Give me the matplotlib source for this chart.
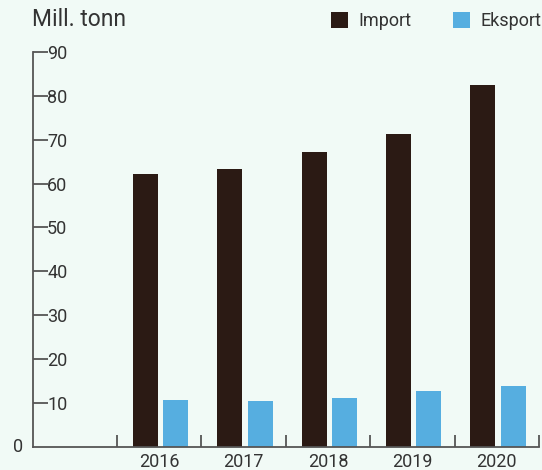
import matplotlib
matplotlib.use("Agg")
import matplotlib.pyplot as plt
import numpy as np

years = ["2016", "2017", "2018", "2019", "2020"]
import_vals = [62.2, 63.4, 67.2, 71.3, 82.5]
export_vals = [10.5, 10.4, 11.1, 12.7, 13.8]
y_ticks = [10, 20, 30, 40, 50, 60, 70, 80, 90]

bg = "#f1faf6"
c_imp = "#2b1a14"
c_exp = "#56aee0"
axis_col = "#555555"
text_col = "#333333"

plt.rcParams['font.family'] = ['Roboto', 'DejaVu Sans']

fig = plt.figure(figsize=(5.42, 4.70), dpi=100, facecolor=bg)
ax = fig.add_axes([0.06, 0.05, 0.9345, 0.839])
ax.set_facecolor(bg)

# category 0 is left empty, years sit at 1..5
x = np.arange(1, len(years) + 1)
w = 0.296
ax.bar(x - 0.165, import_vals, w, color=c_imp, label="Import")
ax.bar(x + 0.195, export_vals, w, color=c_exp, label="Eksport")

ax.set_xlim(-0.5, len(years) + 0.5)
ax.set_ylim(0, 90)

for s in ["top", "right"]:
    ax.spines[s].set_visible(False)
for s in ["left", "bottom"]:
    ax.spines[s].set_color(axis_col)
    ax.spines[s].set_linewidth(1.3)

ax.set_yticks(y_ticks)
ax.set_yticklabels([str(v) for v in y_ticks])
ax.tick_params(axis="y", direction="in", length=11, width=1.3, color=axis_col,
               pad=-10.5, labelsize=13, labelcolor=text_col)
for lab in ax.get_yticklabels():
    lab.set_horizontalalignment("left")
ax.annotate("0", xy=(0, 0), xycoords="axes fraction", xytext=(-7, 0),
            textcoords="offset points", ha="right", va="center",
            fontsize=13, color=text_col, annotation_clip=False)

ax.set_xticks(x)
ax.set_xticklabels(years)
ax.set_xticks(np.arange(0.5, len(years) + 1), minor=True)
ax.tick_params(axis="x", which="major", length=0, pad=5, labelsize=13, labelcolor=text_col)
ax.tick_params(axis="x", which="minor", direction="in", length=9, width=1.3, color=axis_col)

fig.text(0.059, 0.935, "Mill. tonn", fontsize=16.5, color=text_col, ha="left", va="bottom")

leg = fig.legend(loc="upper right", bbox_to_anchor=(541 / 542, 1 - 12 / 470), ncol=2,
                 frameon=False, borderpad=0, borderaxespad=0,
                 fontsize=13, handlelength=0.95, handleheight=0.95, handletextpad=0.55,
                 columnspacing=2.3, labelcolor=text_col)

fig.savefig("out.png", dpi=100, facecolor=bg)
